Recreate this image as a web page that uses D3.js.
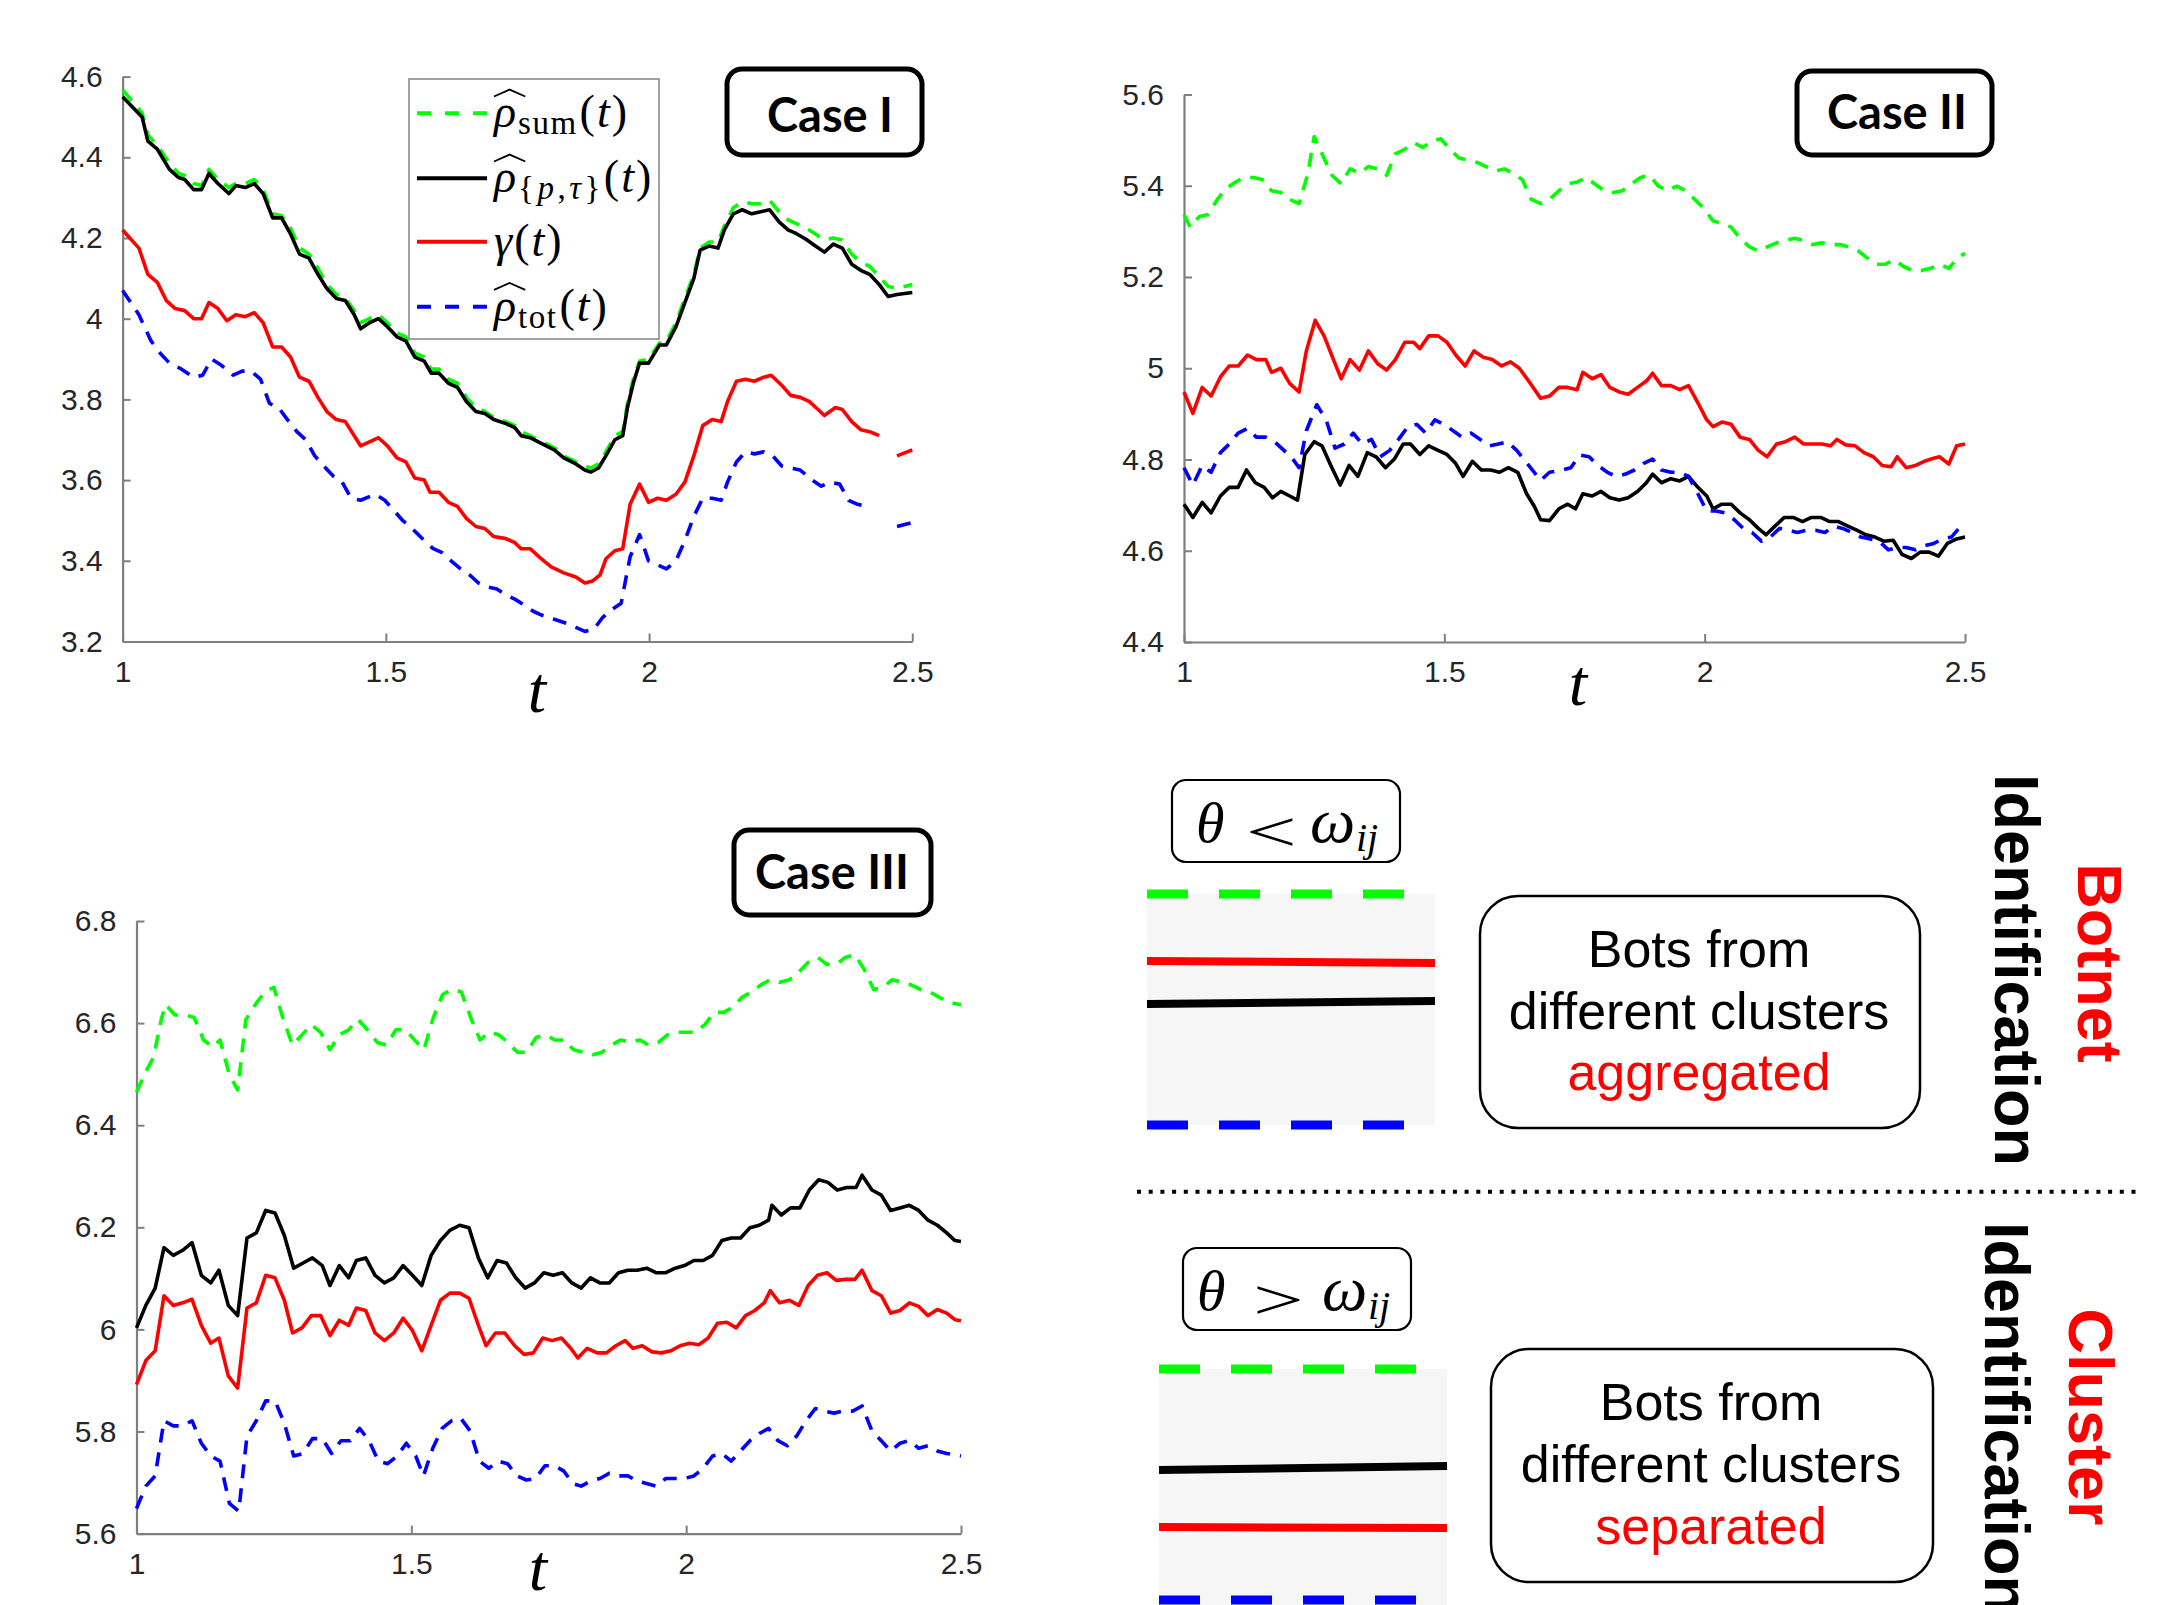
<!DOCTYPE html>
<html><head><meta charset="utf-8">
<script src="https://cdn.jsdelivr.net/npm/d3@7"></script>
<style>body{margin:0;background:#fff}svg{display:block}</style>
</head><body>
<svg id="c" width="2184" height="1605"></svg>
<script>
// ---------------- DATA ----------------
const xTicks = [1, 1.5, 2, 2.5];
const xTickLabels = ["1", "1.5", "2", "2.5"];
const yTicksI = [3.2, 3.4, 3.6, 3.8, 4.0, 4.2, 4.4, 4.6];
const yTickLabelsI = ["3.2", "3.4", "3.6", "3.8", "4", "4.2", "4.4", "4.6"];
const yTicksII = [4.4, 4.6, 4.8, 5.0, 5.2, 5.4, 5.6];
const yTickLabelsII = ["4.4", "4.6", "4.8", "5", "5.2", "5.4", "5.6"];
const yTicksIII = [5.6, 5.8, 6.0, 6.2, 6.4, 6.6, 6.8];
const yTickLabelsIII = ["5.6", "5.8", "6", "6.2", "6.4", "6.6", "6.8"];
const caseLabels = ["Case I", "Case II", "Case III"];

// Case I  [t, value]
const caseI_pt = [[1.000,4.55],[1.037,4.50],[1.048,4.44],[1.066,4.42],[1.089,4.37],[1.106,4.35],[1.118,4.345],[1.135,4.32],[1.150,4.32],[1.164,4.36],[1.181,4.335],[1.202,4.31],[1.215,4.33],[1.233,4.325],[1.250,4.335],[1.267,4.31],[1.285,4.25],[1.302,4.25],[1.319,4.21],[1.336,4.16],[1.354,4.15],[1.371,4.11],[1.388,4.075],[1.406,4.05],[1.423,4.045],[1.440,4.01],[1.452,3.975],[1.469,3.99],[1.486,4.0],[1.503,3.98],[1.521,3.955],[1.538,3.945],[1.555,3.905],[1.573,3.895],[1.586,3.865],[1.601,3.865],[1.619,3.84],[1.636,3.83],[1.653,3.795],[1.671,3.77],[1.688,3.765],[1.705,3.75],[1.728,3.74],[1.745,3.73],[1.757,3.71],[1.774,3.705],[1.797,3.69],[1.820,3.675],[1.838,3.655],[1.861,3.64],[1.878,3.625],[1.889,3.62],[1.904,3.63],[1.918,3.66],[1.935,3.7],[1.950,3.71],[1.959,3.78],[1.970,3.84],[1.982,3.89],[1.999,3.89],[2.020,3.935],[2.033,3.935],[2.051,3.98],[2.068,4.04],[2.085,4.10],[2.097,4.17],[2.114,4.18],[2.131,4.175],[2.143,4.22],[2.160,4.26],[2.177,4.27],[2.195,4.26],[2.212,4.265],[2.229,4.27],[2.247,4.24],[2.264,4.22],[2.281,4.21],[2.298,4.197],[2.316,4.18],[2.333,4.165],[2.350,4.185],[2.367,4.175],[2.385,4.135],[2.402,4.12],[2.419,4.11],[2.437,4.085],[2.454,4.055],[2.471,4.06],[2.500,4.065]];
const caseI_sum = [[1.000,4.567],[1.037,4.51],[1.048,4.455],[1.066,4.43],[1.089,4.385],[1.106,4.36],[1.118,4.355],[1.135,4.335],[1.150,4.33],[1.164,4.37],[1.181,4.345],[1.202,4.325],[1.215,4.335],[1.233,4.335],[1.250,4.345],[1.267,4.32],[1.285,4.26],[1.302,4.255],[1.319,4.225],[1.336,4.175],[1.354,4.16],[1.371,4.125],[1.388,4.085],[1.406,4.06],[1.423,4.05],[1.440,4.02],[1.452,3.99],[1.469,4.0],[1.486,4.01],[1.503,3.99],[1.521,3.965],[1.538,3.955],[1.555,3.915],[1.573,3.905],[1.586,3.875],[1.601,3.875],[1.619,3.85],[1.636,3.84],[1.653,3.805],[1.671,3.78],[1.688,3.77],[1.705,3.755],[1.728,3.745],[1.745,3.735],[1.757,3.72],[1.774,3.71],[1.797,3.695],[1.820,3.68],[1.838,3.66],[1.861,3.645],[1.878,3.635],[1.889,3.63],[1.904,3.64],[1.918,3.67],[1.935,3.71],[1.950,3.72],[1.959,3.79],[1.970,3.85],[1.982,3.895],[1.999,3.9],[2.020,3.94],[2.033,3.945],[2.051,3.99],[2.068,4.05],[2.085,4.11],[2.097,4.175],[2.114,4.19],[2.131,4.19],[2.143,4.23],[2.160,4.275],[2.177,4.29],[2.195,4.285],[2.212,4.285],[2.229,4.293],[2.247,4.265],[2.264,4.245],[2.281,4.235],[2.298,4.225],[2.316,4.21],[2.333,4.195],[2.350,4.2],[2.367,4.195],[2.385,4.16],[2.402,4.14],[2.419,4.13],[2.437,4.105],[2.454,4.08],[2.471,4.075],[2.500,4.085]];
const caseI_gamma = [[1.000,4.22],[1.031,4.175],[1.048,4.11],[1.066,4.09],[1.083,4.045],[1.100,4.025],[1.118,4.02],[1.135,4.0],[1.150,4.0],[1.164,4.04],[1.181,4.025],[1.198,3.995],[1.215,4.01],[1.233,4.005],[1.250,4.015],[1.267,3.99],[1.285,3.93],[1.302,3.93],[1.319,3.905],[1.336,3.855],[1.354,3.845],[1.371,3.805],[1.388,3.77],[1.406,3.75],[1.423,3.745],[1.440,3.71],[1.452,3.685],[1.469,3.695],[1.486,3.705],[1.503,3.685],[1.521,3.655],[1.538,3.645],[1.555,3.605],[1.573,3.6],[1.584,3.57],[1.601,3.57],[1.619,3.545],[1.636,3.535],[1.653,3.505],[1.671,3.485],[1.688,3.48],[1.705,3.46],[1.728,3.455],[1.745,3.445],[1.757,3.43],[1.774,3.43],[1.791,3.41],[1.814,3.385],[1.838,3.37],[1.861,3.36],[1.878,3.345],[1.893,3.35],[1.907,3.365],[1.918,3.405],[1.935,3.425],[1.950,3.43],[1.964,3.54],[1.982,3.59],[1.999,3.545],[2.016,3.555],[2.033,3.55],[2.051,3.565],[2.068,3.595],[2.085,3.66],[2.102,3.735],[2.120,3.75],[2.137,3.745],[2.149,3.795],[2.166,3.845],[2.183,3.85],[2.200,3.845],[2.218,3.855],[2.232,3.86],[2.252,3.835],[2.269,3.81],[2.287,3.805],[2.304,3.795],[2.321,3.775],[2.333,3.76],[2.354,3.78],[2.367,3.775],[2.385,3.745],[2.402,3.725],[2.419,3.72],[2.437,3.71],[2.455,null],[2.471,3.66],[2.500,3.675]];
const caseI_tot = [[1.000,4.07],[1.031,4.01],[1.054,3.945],[1.071,3.915],[1.089,3.89],[1.112,3.875],[1.135,3.855],[1.152,3.86],[1.169,3.90],[1.187,3.885],[1.210,3.86],[1.227,3.87],[1.244,3.87],[1.262,3.85],[1.279,3.79],[1.296,3.78],[1.313,3.75],[1.331,3.72],[1.348,3.70],[1.365,3.66],[1.382,3.635],[1.400,3.61],[1.417,3.595],[1.434,3.555],[1.452,3.55],[1.480,3.565],[1.498,3.55],[1.515,3.525],[1.532,3.5],[1.550,3.48],[1.573,3.45],[1.590,3.43],[1.607,3.42],[1.624,3.40],[1.642,3.38],[1.659,3.365],[1.676,3.345],[1.694,3.335],[1.711,3.33],[1.728,3.315],[1.745,3.305],[1.763,3.29],[1.780,3.275],[1.797,3.265],[1.820,3.255],[1.843,3.245],[1.861,3.235],[1.878,3.225],[1.895,3.23],[1.912,3.26],[1.930,3.28],[1.947,3.295],[1.964,3.41],[1.982,3.465],[1.999,3.40],[2.016,3.39],[2.033,3.38],[2.051,3.40],[2.068,3.45],[2.085,3.51],[2.102,3.555],[2.120,3.555],[2.137,3.55],[2.149,3.595],[2.166,3.645],[2.183,3.67],[2.200,3.665],[2.218,3.67],[2.235,3.66],[2.252,3.635],[2.269,3.63],[2.287,3.625],[2.310,3.60],[2.327,3.585],[2.344,3.595],[2.362,3.59],[2.379,3.55],[2.396,3.54],[2.413,3.535],[2.44,null],[2.471,3.485],[2.500,3.495]];

// Case II
const caseII_sum = [[1.000,5.337],[1.012,5.309],[1.029,5.332],[1.046,5.337],[1.064,5.370],[1.081,5.394],[1.099,5.408],[1.116,5.418],[1.134,5.418],[1.151,5.413],[1.168,5.389],[1.186,5.385],[1.203,5.370],[1.221,5.361],[1.238,5.427],[1.250,5.508],[1.267,5.465],[1.284,5.423],[1.302,5.404],[1.319,5.437],[1.337,5.427],[1.354,5.442],[1.372,5.437],[1.389,5.423],[1.406,5.470],[1.424,5.480],[1.441,5.494],[1.459,5.484],[1.476,5.498],[1.493,5.503],[1.511,5.480],[1.528,5.461],[1.546,5.456],[1.563,5.451],[1.580,5.442],[1.598,5.432],[1.615,5.437],[1.633,5.427],[1.650,5.413],[1.667,5.370],[1.685,5.361],[1.702,5.370],[1.720,5.389],[1.737,5.404],[1.755,5.408],[1.772,5.418],[1.789,5.404],[1.807,5.389],[1.824,5.385],[1.842,5.389],[1.859,5.404],[1.877,5.418],[1.894,5.423],[1.911,5.399],[1.929,5.389],[1.946,5.399],[1.964,5.389],[1.981,5.370],[1.998,5.351],[2.016,5.323],[2.033,5.318],[2.051,5.309],[2.068,5.285],[2.086,5.266],[2.103,5.257],[2.120,5.266],[2.138,5.275],[2.155,5.280],[2.173,5.285],[2.190,5.280],[2.207,5.271],[2.225,5.275],[2.242,5.271],[2.260,5.271],[2.277,5.266],[2.295,5.257],[2.312,5.242],[2.329,5.228],[2.347,5.228],[2.364,5.238],[2.382,5.223],[2.399,5.214],[2.416,5.214],[2.434,5.219],[2.451,5.228],[2.469,5.219],[2.486,5.242],[2.500,5.252]];
const caseII_pt = [[1.000,4.702],[1.017,4.673],[1.035,4.706],[1.052,4.683],[1.070,4.720],[1.087,4.739],[1.104,4.739],[1.120,4.777],[1.137,4.749],[1.154,4.739],[1.170,4.716],[1.186,4.730],[1.203,4.720],[1.218,4.711],[1.232,4.811],[1.250,4.839],[1.265,4.830],[1.282,4.787],[1.300,4.744],[1.317,4.787],[1.334,4.763],[1.352,4.815],[1.369,4.806],[1.387,4.782],[1.404,4.801],[1.421,4.834],[1.435,4.834],[1.453,4.811],[1.470,4.830],[1.488,4.820],[1.505,4.811],[1.522,4.791],[1.536,4.763],[1.554,4.796],[1.571,4.777],[1.589,4.777],[1.606,4.772],[1.623,4.782],[1.641,4.772],[1.658,4.725],[1.673,4.697],[1.685,4.668],[1.702,4.666],[1.720,4.692],[1.737,4.702],[1.752,4.692],[1.766,4.725],[1.784,4.720],[1.801,4.730],[1.818,4.716],[1.836,4.711],[1.853,4.716],[1.871,4.730],[1.888,4.749],[1.900,4.768],[1.917,4.749],[1.935,4.758],[1.952,4.753],[1.969,4.763],[1.987,4.739],[2.004,4.720],[2.016,4.692],[2.033,4.702],[2.051,4.702],[2.068,4.683],[2.086,4.668],[2.103,4.649],[2.118,4.635],[2.135,4.654],[2.153,4.673],[2.170,4.673],[2.188,4.664],[2.205,4.673],[2.223,4.673],[2.240,4.664],[2.257,4.664],[2.275,4.654],[2.292,4.645],[2.310,4.635],[2.327,4.630],[2.344,4.621],[2.362,4.623],[2.379,4.592],[2.397,4.583],[2.414,4.597],[2.431,4.597],[2.449,4.588],[2.466,4.616],[2.484,4.626],[2.500,4.630]];
const caseII_gamma = [[1.000,4.948],[1.017,4.901],[1.035,4.958],[1.052,4.939],[1.070,4.981],[1.087,5.005],[1.104,5.005],[1.122,5.029],[1.139,5.019],[1.157,5.019],[1.168,4.991],[1.186,5.000],[1.203,4.967],[1.221,4.948],[1.235,5.038],[1.252,5.105],[1.269,5.071],[1.287,5.019],[1.302,4.977],[1.319,5.019],[1.337,4.996],[1.354,5.038],[1.372,5.010],[1.389,4.996],[1.406,5.019],[1.424,5.057],[1.441,5.057],[1.453,5.043],[1.470,5.071],[1.488,5.071],[1.505,5.057],[1.522,5.029],[1.540,5.005],[1.557,5.038],[1.575,5.024],[1.592,5.019],[1.610,5.005],[1.627,5.014],[1.644,5.000],[1.662,4.972],[1.685,4.934],[1.702,4.939],[1.720,4.958],[1.737,4.958],[1.755,4.953],[1.766,4.991],[1.784,4.977],[1.801,4.986],[1.818,4.958],[1.836,4.948],[1.853,4.943],[1.871,4.958],[1.888,4.972],[1.900,4.989],[1.917,4.962],[1.935,4.962],[1.952,4.953],[1.969,4.962],[1.987,4.924],[2.004,4.887],[2.016,4.872],[2.033,4.882],[2.051,4.877],[2.068,4.849],[2.086,4.844],[2.103,4.820],[2.120,4.806],[2.138,4.834],[2.155,4.839],[2.173,4.849],[2.190,4.834],[2.207,4.834],[2.225,4.834],[2.242,4.830],[2.254,4.844],[2.271,4.832],[2.289,4.830],[2.306,4.815],[2.324,4.806],[2.341,4.787],[2.358,4.784],[2.370,4.806],[2.387,4.782],[2.405,4.787],[2.422,4.796],[2.440,4.803],[2.451,4.806],[2.469,4.790],[2.484,4.830],[2.500,4.834]];
const caseII_tot = [[1.000,4.782],[1.017,4.744],[1.035,4.787],[1.052,4.772],[1.070,4.815],[1.087,4.834],[1.104,4.858],[1.122,4.868],[1.139,4.849],[1.157,4.849],[1.174,4.839],[1.192,4.820],[1.209,4.801],[1.221,4.782],[1.235,4.863],[1.255,4.920],[1.273,4.887],[1.290,4.825],[1.308,4.834],[1.325,4.858],[1.342,4.834],[1.360,4.844],[1.377,4.806],[1.395,4.820],[1.412,4.844],[1.430,4.872],[1.447,4.877],[1.464,4.858],[1.482,4.887],[1.499,4.877],[1.517,4.863],[1.534,4.849],[1.551,4.858],[1.569,4.844],[1.586,4.830],[1.604,4.834],[1.621,4.839],[1.639,4.820],[1.662,4.787],[1.685,4.754],[1.702,4.772],[1.726,4.777],[1.743,4.782],[1.760,4.810],[1.778,4.806],[1.795,4.787],[1.813,4.772],[1.830,4.763],[1.848,4.768],[1.865,4.777],[1.882,4.791],[1.900,4.801],[1.917,4.777],[1.935,4.772],[1.952,4.772],[1.969,4.763],[1.987,4.725],[2.004,4.687],[2.022,4.687],[2.039,4.683],[2.057,4.668],[2.074,4.649],[2.091,4.640],[2.109,4.621],[2.126,4.630],[2.144,4.649],[2.161,4.645],[2.178,4.640],[2.196,4.645],[2.213,4.645],[2.231,4.640],[2.248,4.654],[2.265,4.649],[2.283,4.640],[2.300,4.630],[2.318,4.626],[2.335,4.621],[2.353,4.602],[2.370,4.607],[2.387,4.607],[2.405,4.602],[2.422,4.611],[2.440,4.616],[2.457,4.626],[2.474,4.630],[2.492,4.654]];

// Case III
const caseIII_sum = [[1.000,6.464],[1.014,6.499],[1.031,6.533],[1.045,6.607],[1.053,6.636],[1.070,6.616],[1.088,6.616],[1.105,6.611],[1.122,6.567],[1.139,6.553],[1.152,6.567],[1.169,6.499],[1.184,6.469],[1.199,6.607],[1.216,6.636],[1.233,6.661],[1.250,6.670],[1.267,6.607],[1.284,6.557],[1.301,6.577],[1.318,6.597],[1.335,6.582],[1.352,6.548],[1.369,6.577],[1.386,6.587],[1.403,6.607],[1.420,6.587],[1.438,6.562],[1.455,6.557],[1.472,6.587],[1.489,6.587],[1.506,6.567],[1.523,6.548],[1.540,6.611],[1.557,6.656],[1.574,6.666],[1.591,6.661],[1.608,6.611],[1.625,6.567],[1.642,6.582],[1.659,6.577],[1.676,6.562],[1.693,6.543],[1.710,6.543],[1.727,6.572],[1.744,6.577],[1.761,6.567],[1.778,6.567],[1.795,6.548],[1.813,6.543],[1.830,6.538],[1.847,6.543],[1.864,6.557],[1.881,6.567],[1.898,6.562],[1.915,6.567],[1.932,6.557],[1.949,6.562],[1.966,6.577],[1.983,6.582],[2.000,6.582],[2.017,6.582],[2.034,6.597],[2.051,6.621],[2.068,6.621],[2.085,6.631],[2.102,6.651],[2.119,6.661],[2.136,6.675],[2.153,6.685],[2.170,6.680],[2.188,6.685],[2.205,6.700],[2.222,6.719],[2.239,6.729],[2.256,6.715],[2.273,6.715],[2.290,6.729],[2.307,6.734],[2.324,6.705],[2.341,6.666],[2.358,6.670],[2.375,6.685],[2.392,6.680],[2.409,6.675],[2.426,6.666],[2.443,6.661],[2.460,6.651],[2.477,6.641],[2.500,6.636]];
const caseIII_pt = [[1.000,6.003],[1.017,6.047],[1.034,6.081],[1.050,6.160],[1.067,6.145],[1.084,6.155],[1.101,6.170],[1.118,6.106],[1.135,6.091],[1.150,6.116],[1.167,6.047],[1.184,6.027],[1.201,6.179],[1.218,6.189],[1.235,6.233],[1.252,6.228],[1.269,6.184],[1.286,6.120],[1.303,6.130],[1.320,6.140],[1.338,6.125],[1.352,6.086],[1.369,6.125],[1.386,6.101],[1.400,6.135],[1.417,6.140],[1.434,6.106],[1.451,6.091],[1.468,6.101],[1.485,6.125],[1.502,6.106],[1.519,6.086],[1.536,6.145],[1.553,6.174],[1.570,6.194],[1.588,6.204],[1.605,6.199],[1.622,6.140],[1.639,6.101],[1.656,6.135],[1.673,6.130],[1.690,6.101],[1.707,6.081],[1.724,6.091],[1.741,6.111],[1.758,6.106],[1.775,6.111],[1.792,6.091],[1.809,6.081],[1.826,6.101],[1.843,6.091],[1.860,6.091],[1.877,6.111],[1.894,6.116],[1.911,6.116],[1.928,6.120],[1.945,6.111],[1.963,6.111],[1.980,6.120],[1.997,6.125],[2.014,6.135],[2.031,6.135],[2.048,6.145],[2.065,6.174],[2.082,6.179],[2.099,6.179],[2.116,6.199],[2.133,6.204],[2.150,6.214],[2.156,6.243],[2.173,6.224],[2.190,6.238],[2.207,6.238],[2.224,6.273],[2.241,6.293],[2.258,6.288],[2.275,6.273],[2.292,6.278],[2.309,6.278],[2.320,6.302],[2.338,6.273],[2.355,6.263],[2.372,6.233],[2.389,6.238],[2.406,6.243],[2.423,6.233],[2.440,6.214],[2.457,6.204],[2.474,6.189],[2.489,6.174],[2.500,6.172]];
const caseIII_gamma = [[1.000,5.892],[1.017,5.939],[1.034,5.958],[1.050,6.066],[1.067,6.047],[1.084,6.052],[1.101,6.059],[1.118,6.008],[1.135,5.973],[1.150,5.983],[1.167,5.909],[1.184,5.885],[1.201,6.042],[1.218,6.052],[1.235,6.106],[1.252,6.101],[1.269,6.057],[1.284,5.993],[1.301,6.003],[1.318,6.027],[1.335,6.027],[1.352,5.988],[1.369,6.018],[1.386,6.008],[1.400,6.042],[1.417,6.037],[1.434,5.993],[1.451,5.978],[1.468,5.993],[1.485,6.022],[1.502,5.998],[1.519,5.958],[1.536,6.008],[1.553,6.057],[1.570,6.071],[1.588,6.071],[1.605,6.061],[1.622,6.008],[1.636,5.968],[1.653,5.993],[1.670,5.993],[1.688,5.968],[1.705,5.951],[1.722,5.954],[1.739,5.983],[1.756,5.978],[1.773,5.983],[1.790,5.963],[1.803,5.944],[1.820,5.963],[1.838,5.954],[1.855,5.954],[1.872,5.968],[1.889,5.978],[1.903,5.963],[1.920,5.968],[1.938,5.956],[1.955,5.954],[1.972,5.958],[1.989,5.968],[2.006,5.973],[2.023,5.970],[2.040,5.983],[2.057,6.012],[2.074,6.014],[2.091,6.003],[2.108,6.027],[2.125,6.037],[2.142,6.052],[2.153,6.076],[2.170,6.052],[2.188,6.057],[2.205,6.047],[2.222,6.086],[2.239,6.106],[2.256,6.111],[2.273,6.096],[2.290,6.098],[2.307,6.098],[2.320,6.116],[2.338,6.076],[2.355,6.066],[2.372,6.032],[2.389,6.037],[2.406,6.052],[2.423,6.045],[2.440,6.027],[2.457,6.039],[2.474,6.032],[2.489,6.019],[2.500,6.017]];
const caseIII_tot = [[1.000,5.649],[1.017,5.693],[1.034,5.713],[1.050,5.821],[1.067,5.811],[1.084,5.811],[1.101,5.821],[1.118,5.777],[1.135,5.752],[1.152,5.742],[1.169,5.659],[1.186,5.644],[1.201,5.791],[1.218,5.821],[1.235,5.860],[1.252,5.860],[1.269,5.816],[1.286,5.752],[1.303,5.757],[1.320,5.786],[1.338,5.786],[1.355,5.757],[1.372,5.782],[1.389,5.782],[1.406,5.806],[1.423,5.782],[1.440,5.742],[1.457,5.737],[1.474,5.752],[1.491,5.777],[1.508,5.752],[1.522,5.713],[1.539,5.767],[1.556,5.806],[1.573,5.821],[1.590,5.826],[1.607,5.801],[1.624,5.742],[1.641,5.728],[1.658,5.742],[1.675,5.737],[1.692,5.713],[1.709,5.705],[1.726,5.708],[1.743,5.733],[1.760,5.733],[1.777,5.723],[1.794,5.698],[1.809,5.693],[1.826,5.703],[1.843,5.708],[1.860,5.718],[1.877,5.713],[1.894,5.713],[1.911,5.703],[1.928,5.698],[1.945,5.693],[1.963,5.708],[1.980,5.708],[1.997,5.708],[2.014,5.713],[2.031,5.728],[2.048,5.752],[2.065,5.757],[2.082,5.742],[2.099,5.762],[2.116,5.782],[2.133,5.796],[2.150,5.806],[2.167,5.782],[2.184,5.772],[2.201,5.791],[2.218,5.821],[2.235,5.845],[2.252,5.840],[2.269,5.836],[2.286,5.840],[2.303,5.840],[2.320,5.850],[2.338,5.801],[2.355,5.782],[2.372,5.762],[2.389,5.777],[2.406,5.782],[2.423,5.767],[2.440,5.772],[2.457,5.762],[2.474,5.757],[2.500,5.752]];

// ---------------- DRAWING ----------------
const svg = d3.select("#c");
const SANS = "'Liberation Sans', Arial, Helvetica, sans-serif";
const SERIF = "'Liberation Serif', 'Times New Roman', serif";
const BOLD = "Lato, 'Liberation Sans', sans-serif";
const COL = {sum: "#00ff00", pt: "#000000", gamma: "#ff0000", tot: "#0000ff"};
const DASH = "14,10";
const AXIS_COL = "#7f7f7f";

svg.append("rect").attr("width", 2184).attr("height", 1605).attr("fill", "#fff");

const panels = [
  {x0: 122.6, x1: 912.3, yTop: 76.6, yBot: 641.5, dom: [3.2, 4.6], yt: yTicksI, yl: yTickLabelsI,
   series: {sum: caseI_sum, pt: caseI_pt, gamma: caseI_gamma, tot: caseI_tot},
   tlab: [537, 712], box: {x: 727, y: 69, w: 195, h: 86, tx: 830, ty: 131.5}, label: caseLabels[0]},
  {x0: 1184, x1: 1965, yTop: 94.5, yBot: 642, dom: [4.4, 5.6], yt: yTicksII, yl: yTickLabelsII,
   series: {sum: caseII_sum, pt: caseII_pt, gamma: caseII_gamma, tot: caseII_tot},
   tlab: [1578, 705], box: {x: 1797, y: 71, w: 195, h: 84, tx: 1897, ty: 128.5}, label: caseLabels[1]},
  {x0: 136.5, x1: 961, yTop: 921, yBot: 1533.6, dom: [5.6, 6.8], yt: yTicksIII, yl: yTickLabelsIII,
   series: {sum: caseIII_sum, pt: caseIII_pt, gamma: caseIII_gamma, tot: caseIII_tot},
   tlab: [538, 1590], box: {x: 734, y: 830, w: 197, h: 85, tx: 832, ty: 889}, label: caseLabels[2]}
];

panels.forEach(p => {
  const x = d3.scaleLinear().domain([1, 2.5]).range([p.x0, p.x1]);
  const y = d3.scaleLinear().domain(p.dom).range([p.yBot, p.yTop]);
  const g = svg.append("g");

  const ax = g.append("g").attr("transform", `translate(0,${p.yBot})`)
    .call(d3.axisBottom(x).tickValues(xTicks).tickFormat((d, i) => xTickLabels[i])
      .tickSizeInner(-8).tickSizeOuter(0).tickPadding(19));
  const ay = g.append("g").attr("transform", `translate(${p.x0},0)`)
    .call(d3.axisLeft(y).tickValues(p.yt).tickFormat((d, i) => p.yl[i])
      .tickSizeInner(-8).tickSizeOuter(0).tickPadding(20));
  [ax, ay].forEach(a => {
    a.select(".domain").attr("stroke", AXIS_COL).attr("stroke-width", 2.2);
    a.selectAll(".tick line").attr("stroke", AXIS_COL).attr("stroke-width", 2);
    a.selectAll(".tick text").attr("font-family", SANS).attr("font-size", 30).attr("fill", "#262626");
  });

  const line = d3.line().defined(d => d[1] !== null).x(d => x(d[0])).y(d => y(d[1]));
  ["sum", "pt", "gamma", "tot"].forEach(k => {
    g.append("path").datum(p.series[k]).attr("d", line)
      .attr("fill", "none").attr("stroke", COL[k]).attr("stroke-width", 3.6)
      .attr("stroke-linejoin", "round")
      .attr("stroke-dasharray", (k === "sum" || k === "tot") ? DASH : null);
  });

  g.append("text").attr("x", p.tlab[0]).attr("y", p.tlab[1]).attr("text-anchor", "middle")
    .attr("font-family", SERIF).attr("font-style", "italic").attr("font-size", 66).text("t");

  const b = p.box;
  g.append("rect").attr("x", b.x).attr("y", b.y).attr("width", b.w).attr("height", b.h)
    .attr("rx", 15).attr("fill", "#fff").attr("stroke", "#000").attr("stroke-width", 5);
  g.append("text").attr("x", b.tx).attr("y", b.ty).attr("text-anchor", "middle")
    .attr("font-family", BOLD).attr("font-weight", 700).attr("font-size", 47).text(p.label);
});

// ---------------- LEGEND (Case I) ----------------
const lg = svg.append("g");
lg.append("rect").attr("x", 409).attr("y", 79).attr("width", 250).attr("height", 260)
  .attr("fill", "#fff").attr("stroke", "#8a8a8a").attr("stroke-width", 1.6);

function mathLabel(g, x, y, parts, fs, subFs, hat) {
  const t = g.append("text").attr("x", x).attr("y", y).attr("font-family", SERIF)
    .attr("font-size", fs).attr("fill", "#000");
  let inSub = false;
  const shift = 7;
  parts.forEach((pt, i) => {
    const ts = t.append("tspan").text(pt.s);
    if (pt.i) ts.attr("font-style", "italic");
    if (pt.sub) ts.attr("font-size", subFs).attr("letter-spacing", 1.5);
    let dy = 0;
    if (pt.sub && !inSub) { dy = shift; inSub = true; }
    else if (!pt.sub && inSub) { dy = -shift; inSub = false; }
    if (dy) ts.attr("dy", dy);
    if (i > 0) ts.attr("dx", 2);
  });
  if (hat) {
    const e = t.node().getExtentOfChar(0);
    const hx = e.x;
    g.append("path")
      .attr("d", `M${hx},${y - 0.67 * fs} L${hx + 0.34 * fs},${y - 0.82 * fs} L${hx + 0.68 * fs},${y - 0.67 * fs}`)
      .attr("fill", "none").attr("stroke", "#000").attr("stroke-width", 1.8);
  }
  return t;
}

const legendItems = [
  {k: "sum", y: 113.3, hat: true, parts: [{s: "ρ", i: 1}, {s: "sum", sub: 1}, {s: "("}, {s: "t", i: 1}, {s: ")"}]},
  {k: "pt", y: 178.3, hat: true, parts: [{s: "ρ", i: 1}, {s: "{", sub: 1}, {s: "p", i: 1, sub: 1}, {s: ",", sub: 1}, {s: "τ", i: 1, sub: 1}, {s: "}", sub: 1}, {s: "("}, {s: "t", i: 1}, {s: ")"}]},
  {k: "gamma", y: 241.7, hat: false, parts: [{s: "γ", i: 1}, {s: "("}, {s: "t", i: 1}, {s: ")"}]},
  {k: "tot", y: 306.7, hat: true, parts: [{s: "ρ", i: 1}, {s: "tot", sub: 1}, {s: "("}, {s: "t", i: 1}, {s: ")"}]}
];
legendItems.forEach(it => {
  lg.append("line").attr("x1", 417).attr("x2", 487).attr("y1", it.y).attr("y2", it.y)
    .attr("stroke", COL[it.k]).attr("stroke-width", 4)
    .attr("stroke-dasharray", (it.k === "sum" || it.k === "tot") ? "14,14" : null);
  mathLabel(lg, 494, it.y + 14, it.parts, 46, 33, it.hat);
});

// ---------------- RIGHT-BOTTOM SCHEMATIC ----------------
const sc = svg.append("g");
function condBox(bx, by, op, xs) {
  sc.append("rect").attr("x", bx).attr("y", by).attr("width", 228).attr("height", 82)
    .attr("rx", 14).attr("fill", "#fff").attr("stroke", "#000").attr("stroke-width", 2.2);
  const base = by + 62;
  const mk = (x, s, it, fs, dy) => sc.append("text").attr("x", x).attr("y", base + (dy || 0))
    .attr("font-family", SERIF).attr("font-style", it ? "italic" : "normal")
    .attr("font-size", fs).text(s);
  mk(xs[0], "θ", 1, 58);
  // relation sign: wide and flat, like the TeX glyph
  sc.append("text").attr("transform", `translate(${xs[1]},${base + 9}) scale(1,0.64)`)
    .attr("font-family", SERIF).attr("font-size", 90).text(op);
  mk(xs[2], "ω", 1, 64);
  mk(xs[3], "ij", 1, 40, 9);
}
condBox(1172, 780, "<", [1196, 1246, 1310, 1356]);
condBox(1183, 1248, ">", [1197, 1253, 1322, 1368]);

function illus(rx, ry, rw, rh, lines) {
  sc.append("rect").attr("x", rx).attr("y", ry).attr("width", rw).attr("height", rh).attr("fill", "#f6f6f6");
  lines.forEach(l => {
    sc.append("line").attr("x1", rx).attr("x2", rx + rw).attr("y1", l.y1).attr("y2", l.y2)
      .attr("stroke", COL[l.k]).attr("stroke-width", l.dash ? 9 : 8)
      .attr("stroke-dasharray", l.dash ? "41,31" : null);
  });
}
illus(1147, 894, 288, 231, [
  {k: "sum", y1: 894, y2: 894, dash: 1},
  {k: "gamma", y1: 961, y2: 963},
  {k: "pt", y1: 1004, y2: 1001},
  {k: "tot", y1: 1125, y2: 1125, dash: 1}
]);
illus(1159, 1369, 288, 236, [
  {k: "sum", y1: 1369, y2: 1369, dash: 1},
  {k: "pt", y1: 1470, y2: 1466},
  {k: "gamma", y1: 1527, y2: 1528},
  {k: "tot", y1: 1600, y2: 1600, dash: 1}
]);

function textBox(bx, by, bw, bh, cx, bases, word) {
  sc.append("rect").attr("x", bx).attr("y", by).attr("width", bw).attr("height", bh)
    .attr("rx", 38).attr("fill", "#fff").attr("stroke", "#000").attr("stroke-width", 2.5);
  const lines = [["Bots from", "#000"], ["different clusters", "#000"], [word, "#ff0000"]];
  lines.forEach((l, i) => sc.append("text").attr("x", cx).attr("y", bases[i]).attr("text-anchor", "middle")
    .attr("font-family", SANS).attr("font-size", 52).attr("fill", l[1]).text(l[0]));
}
textBox(1480, 896, 440, 232, 1699, [967, 1029, 1090], "aggregated");
textBox(1491, 1349, 442, 233, 1711, [1420, 1482, 1544], "separated");

sc.append("line").attr("x1", 1137).attr("x2", 2136).attr("y1", 1191.7).attr("y2", 1191.7)
  .attr("stroke", "#000").attr("stroke-width", 4).attr("stroke-dasharray", "4,7.7");

function vtext(x, y, s, col) {
  sc.append("text").attr("transform", `translate(${x},${y}) rotate(90)`).attr("text-anchor", "middle")
    .attr("font-family", SANS).attr("font-weight", 700).attr("font-size", 63).attr("fill", col).text(s);
}
vtext(1995, 970, "Identification", "#000");
vtext(2078, 963, "Botnet", "#ff0000");
vtext(1985, 1418, "Identification", "#000");
vtext(2069, 1417, "Cluster", "#ff0000");
</script>
</body></html>
